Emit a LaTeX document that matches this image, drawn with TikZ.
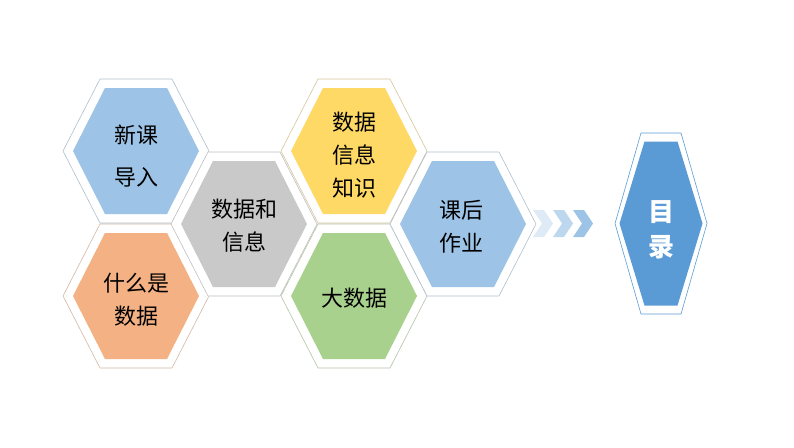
\documentclass[tikz,border=0pt]{standalone}
\usepackage{fontspec}
\newfontfamily\cjk{Noto Sans CJK SC}
\usetikzlibrary{positioning}
\definecolor{cellblue}{HTML}{9DC3E6}
\definecolor{cellgray}{HTML}{C9C9C9}
\definecolor{cellyellow}{HTML}{FFD966}
\definecolor{cellorange}{HTML}{F4B183}
\definecolor{cellgreen}{HTML}{A9D18E}
\definecolor{mulublue}{HTML}{5B9BD5}
\definecolor{chevA}{HTML}{DEEBF7}
\definecolor{chevB}{HTML}{BDD7EE}
\definecolor{chevC}{HTML}{9DC3E6}
\tikzset{
x=1pt, y=-1pt, % one unit is one pixel of the slide
celltext/.style={font=\cjk\fontsize{22}{33}\selectfont, align=center, text=black}, % labels in the cells
mulutext/.style={font=\cjk\bfseries\fontsize{26}{35}\selectfont, align=center, text=white},
}
% one honeycomb cell: x, y, colour, name, text
\newcommand{\hexcell}[5]{%
\begin{scope}[shift={(#1,#2)}]
\filldraw[fill=white, draw=#3!70!black!55, line width=0.6pt]
(-73,0) -- (-36,-72) -- (36,-72) -- (73,0) -- (36,72) -- (-36,72) -- cycle;
\fill[#3] (-63,0) -- (-31,-63) -- (31,-63) -- (63,0) -- (31,63) -- (-31,63) -- cycle;
\end{scope}
\node[celltext] (#4) at (#1,#2) {#5};
}

\begin{document}
\begin{tikzpicture}
\useasboundingbox (0,0) rectangle (794,447);
\hexcell{136}{151}{cellblue}{intro}{}
\hexcell{136}{296}{cellorange}{whatis}{}
\hexcell{244}{224}{cellgray}{datainfo}{}
\hexcell{354}{151}{cellyellow}{dik}{}
\hexcell{354}{296}{cellgreen}{bigdata}{}
\hexcell{463}{224}{cellblue}{homework}{}
\node[celltext, font=\cjk\fontsize{22}{42}\selectfont] (introtext) at (136,156) {新课\\导入};
\node[celltext] (whatistext) at (136,300) {什么是\\数据};
\node[celltext] (datainfotext) at (244,226) {数据和\\信息};
\node[celltext] (diktext) at (354,155) {数据\\信息\\知识};
\node[celltext] (bigdatatext) at (354,298) {大数据};
\node[celltext] (homeworktext) at (461,227) {课后\\作业};
% chevrons
\foreach \cx/\cc in {533/chevA, 553/chevB, 573/chevC}
\fill[\cc] (\cx,210) -- (\cx+11,210) -- (\cx+20,223.5) -- (\cx+11,237) -- (\cx,237) -- (\cx+9,223.5) -- cycle;
% contents cell
\begin{scope}[shift={(661,223.5)}]
\filldraw[fill=white, draw=mulublue, line width=0.6pt]
(-46,0) -- (-20,-90.5) -- (20,-90.5) -- (46,0) -- (20,90.5) -- (-20,90.5) -- cycle;
\fill[mulublue] (-41.5,0) -- (-16.5,-82) -- (16.5,-82) -- (41.5,0) -- (16.5,82) -- (-16.5,82) -- cycle;
\end{scope}
\node[mulutext] (mulu) at (661,230) {目\\录};
\end{tikzpicture}
\end{document}
